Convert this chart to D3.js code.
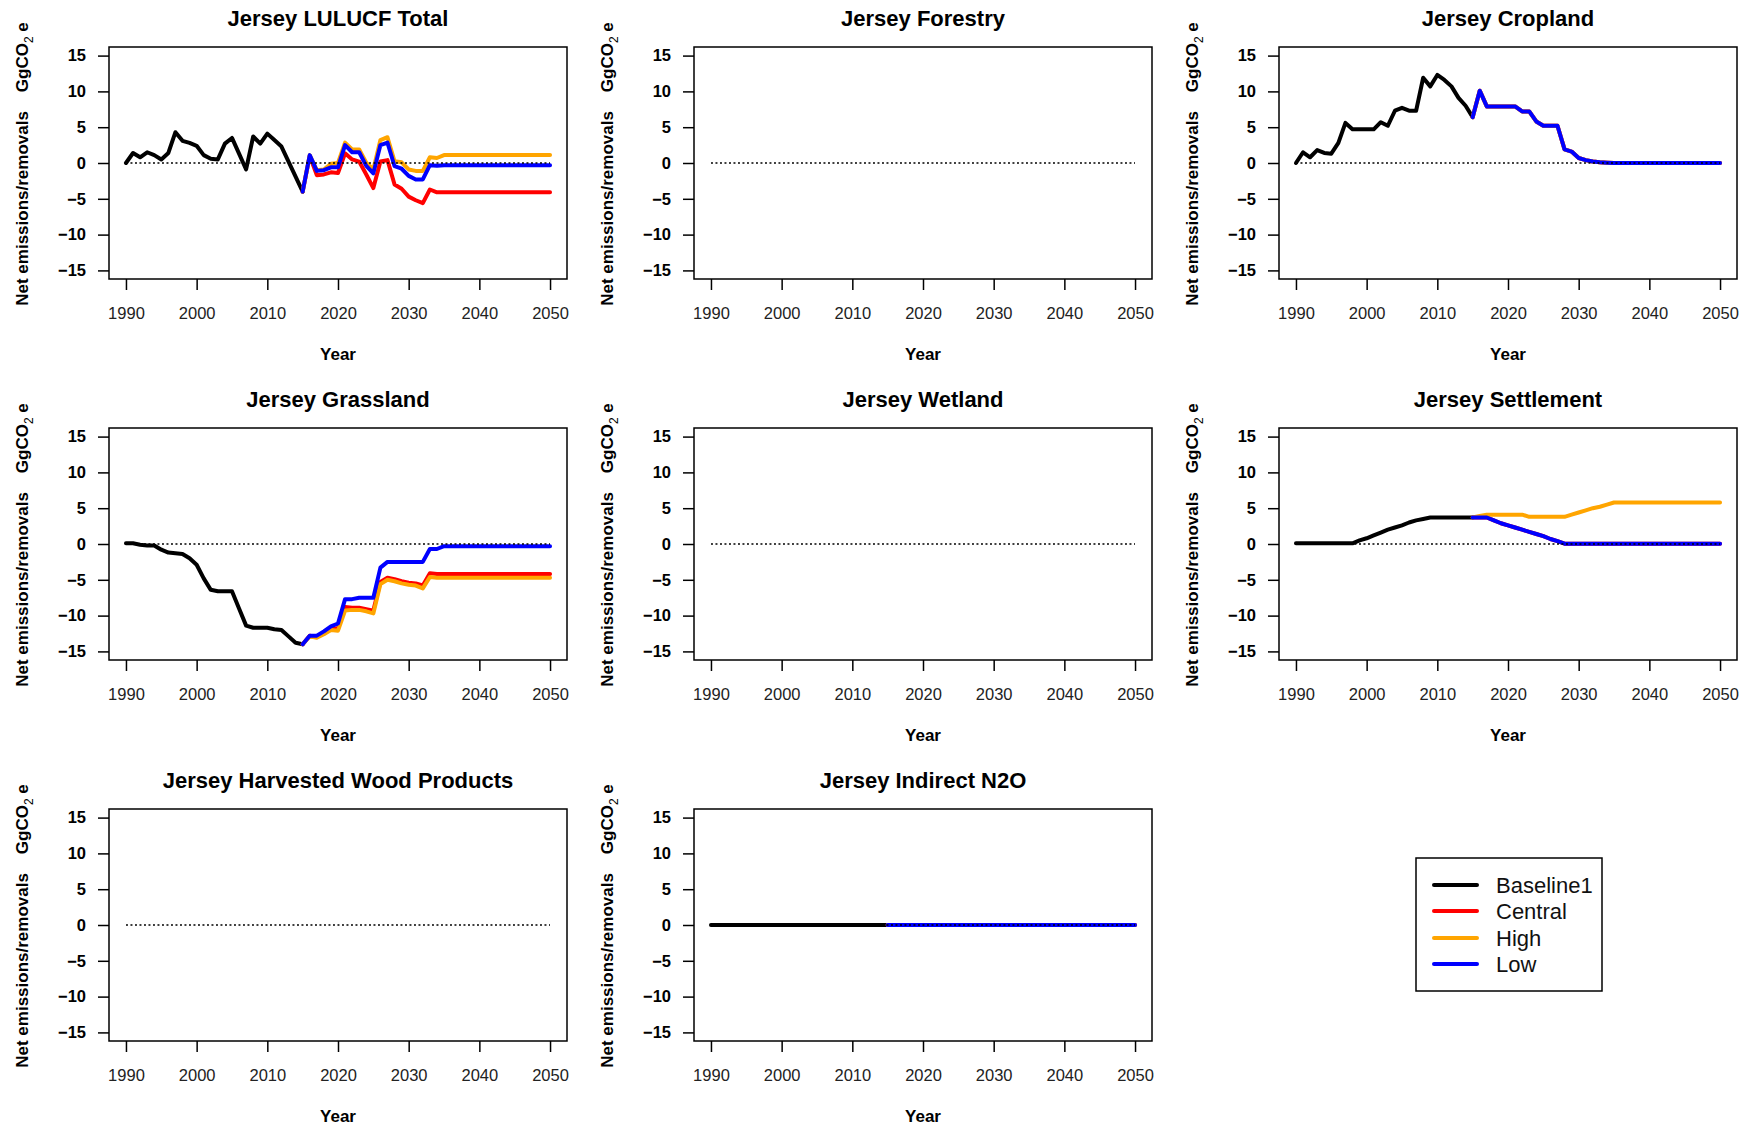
<!DOCTYPE html>
<html>
<head>
<meta charset="utf-8">
<script src="https://cdn.jsdelivr.net/npm/d3@7"></script>
<style>
  body { margin: 0; background: #fff; }
  svg { display: block; font-family: "Liberation Sans", Arial, sans-serif; }
</style>
</head>
<body>
<svg width="1749" height="1129"></svg>
<script>
// axis ticks
const xTicks = [1990, 2000, 2010, 2020, 2030, 2040, 2050];
const yTicks = [-15, -10, -5, 0, 5, 10, 15];

// years: observed baseline 1990-2015, projections 2015-2050
const baseYears = d3.range(1990, 2016);
const projYears = d3.range(2015, 2051);

const panelTitles = [
  "Jersey LULUCF Total", "Jersey Forestry", "Jersey Cropland",
  "Jersey Grassland", "Jersey Wetland", "Jersey Settlement",
  "Jersey Harvested Wood Products", "Jersey Indirect N2O"
];

const seriesNames = ["Baseline1", "Central", "High", "Low"];
const seriesColors = ["#000000", "#FF0000", "#FFA500", "#0000FF"];

// LULUCF total
const totalBase = [0, 1.4, 0.8, 1.5, 1.1, 0.5, 1.4, 4.3, 3.1, 2.8, 2.4, 1.1, 0.6, 0.5, 2.7, 3.5, 1.3, -0.9, 3.7, 2.7, 4.1, 3.2, 2.3, 0.2, -1.9, -4.0];
const totalCentral = [-4.0, 1.0, -1.7, -1.6, -1.3, -1.4, 1.35, 0.5, 0.2, -1.6, -3.5, 0.2, 0.4, -3.0, -3.6, -4.7, -5.2, -5.6, -3.7, -4.1, -4.1,
  -4.1, -4.1, -4.1, -4.1, -4.1, -4.1, -4.1, -4.1, -4.1, -4.1, -4.1, -4.1, -4.1, -4.1, -4.1];
const totalHigh = [-4.0, 1.1, -1.0, -0.9, -0.1, 0.0, 2.85, 1.9, 1.9, 0.05, -0.9, 3.2, 3.6, 0.25, 0.1, -0.9, -1.1, -1.1, 0.8, 0.7, 1.1,
  1.1, 1.1, 1.1, 1.1, 1.1, 1.1, 1.1, 1.1, 1.1, 1.1, 1.1, 1.1, 1.1, 1.1, 1.1];
const totalLow = [-4.0, 1.1, -1.1, -1.0, -0.6, -0.6, 2.5, 1.5, 1.5, -0.4, -1.45, 2.5, 2.85, -0.45, -0.8, -1.8, -2.3, -2.3, -0.3, -0.4, -0.3,
  -0.3, -0.3, -0.3, -0.3, -0.3, -0.3, -0.3, -0.3, -0.3, -0.3, -0.3, -0.3, -0.3, -0.3, -0.3];

// Cropland
const cropBase = [0, 1.5, 0.8, 1.8, 1.4, 1.3, 2.8, 5.6, 4.7, 4.7, 4.7, 4.7, 5.7, 5.2, 7.3, 7.7, 7.3, 7.3, 11.9, 10.7, 12.3, 11.6, 10.7, 9.1, 8.0, 6.4];
const cropLow = [6.4, 10.1, 7.9, 7.9, 7.9, 7.9, 7.9, 7.2, 7.2, 5.8, 5.2, 5.2, 5.2, 1.9, 1.6, 0.7, 0.4, 0.2, 0.1, 0.05,
  0, 0, 0, 0, 0, 0, 0, 0, 0, 0, 0, 0, 0, 0, 0, 0];

// Grassland
const grassBase = [0.1, 0.1, -0.1, -0.2, -0.2, -0.8, -1.2, -1.3, -1.4, -2.0, -2.9, -4.8, -6.4, -6.6, -6.6, -6.6, -9.0, -11.4, -11.7, -11.7, -11.7, -11.9, -12.0, -12.9, -13.8, -14.0];
const grassCentral = [-14.0, -12.8, -13.0, -12.5, -11.8, -11.8, -8.8, -8.9, -8.9, -9.1, -9.3, -5.3, -4.7, -4.9, -5.2, -5.4, -5.5, -5.8, -4.1, -4.2, -4.2,
  -4.2, -4.2, -4.2, -4.2, -4.2, -4.2, -4.2, -4.2, -4.2, -4.2, -4.2, -4.2, -4.2, -4.2, -4.2];
const grassHigh = [-14.0, -12.9, -13.1, -12.6, -12.0, -12.1, -9.3, -9.2, -9.2, -9.4, -9.7, -5.6, -5.0, -5.2, -5.5, -5.7, -5.8, -6.2, -4.6, -4.7, -4.7,
  -4.7, -4.7, -4.7, -4.7, -4.7, -4.7, -4.7, -4.7, -4.7, -4.7, -4.7, -4.7, -4.7, -4.7, -4.7];
const grassLow = [-14.0, -12.8, -12.8, -12.2, -11.5, -11.1, -7.7, -7.7, -7.5, -7.5, -7.5, -3.3, -2.5, -2.5, -2.5, -2.5, -2.5, -2.5, -0.7, -0.7, -0.3,
  -0.3, -0.3, -0.3, -0.3, -0.3, -0.3, -0.3, -0.3, -0.3, -0.3, -0.3, -0.3, -0.3, -0.3, -0.3];

// Settlement
const settleBase = [0.1, 0.1, 0.1, 0.1, 0.1, 0.1, 0.1, 0.1, 0.1, 0.5, 0.8, 1.2, 1.6, 2.0, 2.3, 2.6, 3.0, 3.3, 3.5, 3.7, 3.7, 3.7, 3.7, 3.7, 3.7, 3.7];
const settleHigh = [3.7, 3.9, 4.1, 4.1, 4.1, 4.1, 4.1, 4.1, 3.8, 3.8, 3.8, 3.8, 3.8, 3.8, 4.1, 4.4, 4.7, 5.0, 5.2, 5.5, 5.8,
  5.8, 5.8, 5.8, 5.8, 5.8, 5.8, 5.8, 5.8, 5.8, 5.8, 5.8, 5.8, 5.8, 5.8, 5.8];
const settleLow = [3.7, 3.7, 3.7, 3.3, 2.9, 2.6, 2.3, 2.0, 1.7, 1.4, 1.1, 0.7, 0.4, 0.05,
  0.05, 0.05, 0.05, 0.05, 0.05, 0.05, 0.05, 0.05, 0.05, 0.05, 0.05, 0.05, 0.05, 0.05, 0.05, 0.05, 0.05, 0.05, 0.05, 0.05, 0.05, 0.05];

// Indirect N2O
const n2oBase = [0, 0, 0, 0, 0, 0, 0, 0, 0, 0, 0, 0, 0, 0, 0, 0, 0, 0, 0, 0, 0, 0, 0, 0, 0, 0];
const n2oProj = [0, 0, 0, 0, 0, 0, 0, 0, 0, 0, 0, 0, 0, 0, 0, 0, 0, 0, 0, 0, 0, 0, 0, 0, 0, 0, 0, 0, 0, 0, 0, 0, 0, 0, 0, 0];

// per panel: [baseline, central, high, low] (null = nothing drawn)
const panelSeries = [
  [totalBase, totalCentral, totalHigh, totalLow],
  null,
  [cropBase, cropLow, cropLow, cropLow],
  [grassBase, grassCentral, grassHigh, grassLow],
  null,
  [settleBase, settleLow, settleHigh, settleLow],
  null,
  [n2oBase, n2oProj, n2oProj, n2oProj]
];

const svg = d3.select("svg");
const font = '"Liberation Sans", Arial, sans-serif';

// layout
const margin = { left: 109, top: 47 };
const boxW = 458, boxH = 232;
const colStep = 585, rowStep = 381;

const x = d3.scaleLinear().domain([1987.6, 2052.4]).range([0, boxW]);
const y = d3.scaleLinear().domain([-16.2, 16.2]).range([boxH, 0]);

const line = d3.line()
  .x(d => x(d[0]))
  .y(d => y(d[1]));

panelTitles.forEach((title, i) => {
  const col = i % 3, row = Math.floor(i / 3);
  const g = svg.append("g")
    .attr("transform", `translate(${margin.left + col * colStep}, ${margin.top + row * rowStep})`);

  // x axis
  const xAxisG = g.append("g")
    .attr("transform", `translate(0, ${boxH})`)
    .call(d3.axisBottom(x).tickValues(xTicks).tickSize(11).tickPadding(17).tickFormat(d3.format("d")));
  xAxisG.select(".domain").remove();
  xAxisG.selectAll("line").attr("stroke", "#000").attr("stroke-width", 1.5);
  xAxisG.selectAll("text")
    .attr("font-family", font).attr("font-size", 16.5).attr("fill", "#222");

  // y axis
  const yAxisG = g.append("g")
    .call(d3.axisLeft(y).tickValues(yTicks).tickSize(11).tickPadding(12));
  yAxisG.select(".domain").remove();
  yAxisG.selectAll("line").attr("stroke", "#000").attr("stroke-width", 1.5);
  yAxisG.selectAll("text")
    .attr("font-family", font).attr("font-size", 16.5).attr("font-weight", "bold").attr("fill", "#000");

  // box
  g.append("rect")
    .attr("width", boxW).attr("height", boxH)
    .attr("fill", "none").attr("stroke", "#000").attr("stroke-width", 1.5);

  // title
  g.append("text")
    .attr("x", boxW / 2).attr("y", -21)
    .attr("text-anchor", "middle")
    .attr("font-size", 22).attr("font-weight", "bold")
    .text(title);

  // x label
  g.append("text")
    .attr("x", boxW / 2).attr("y", boxH + 81)
    .attr("text-anchor", "middle")
    .attr("font-size", 17).attr("font-weight", "bold")
    .text("Year");

  // y label: Net emissions/removals    GgCO2 e
  const yl = g.append("text")
    .attr("transform", `translate(-81, ${boxH / 2 + 1}) rotate(-90)`)
    .attr("text-anchor", "middle")
    .attr("font-size", 17).attr("font-weight", "bold")
    .style("white-space", "pre");
  yl.append("tspan").text("Net emissions/removals\u00a0\u00a0\u00a0\u00a0GgCO");
  yl.append("tspan").attr("font-size", 12).attr("font-weight", "normal").attr("dy", 5).text("2");
  yl.append("tspan").attr("dy", -5).text("\u00a0e");

  // series
  const s = panelSeries[i];
  if (s) {
    const drawn = [
      [baseYears, s[0], seriesColors[0]],
      [projYears, s[1], seriesColors[1]],
      [projYears, s[2], seriesColors[2]],
      [projYears, s[3], seriesColors[3]]
    ];
    drawn.forEach(([yrs, vals, color]) => {
      g.append("path")
        .attr("d", line(yrs.map((yr, k) => [yr, vals[k]])))
        .attr("fill", "none")
        .attr("stroke", color)
        .attr("stroke-width", 4)
        .attr("stroke-linejoin", "round")
        .attr("stroke-linecap", "round");
    });
  }

  // zero reference
  g.append("line")
    .attr("x1", x(1990)).attr("x2", x(2050))
    .attr("y1", y(0)).attr("y2", y(0))
    .attr("stroke", "#000").attr("stroke-width", 1.5)
    .attr("stroke-dasharray", "2,2.5");
});

// legend
const legend = svg.append("g").attr("transform", "translate(1416, 858)");
legend.append("rect")
  .attr("width", 186).attr("height", 133)
  .attr("fill", "#fff").attr("stroke", "#000").attr("stroke-width", 1.5);
const rowY = [27, 53, 80, 106];
seriesNames.forEach((name, k) => {
  legend.append("line")
    .attr("x1", 18).attr("x2", 61)
    .attr("y1", rowY[k]).attr("y2", rowY[k])
    .attr("stroke", seriesColors[k]).attr("stroke-width", 4)
    .attr("stroke-linecap", "round");
  legend.append("text")
    .attr("x", 80).attr("y", rowY[k]).attr("dy", "0.36em")
    .attr("font-size", 22).attr("fill", "#111")
    .text(name);
});
</script>
</body>
</html>
